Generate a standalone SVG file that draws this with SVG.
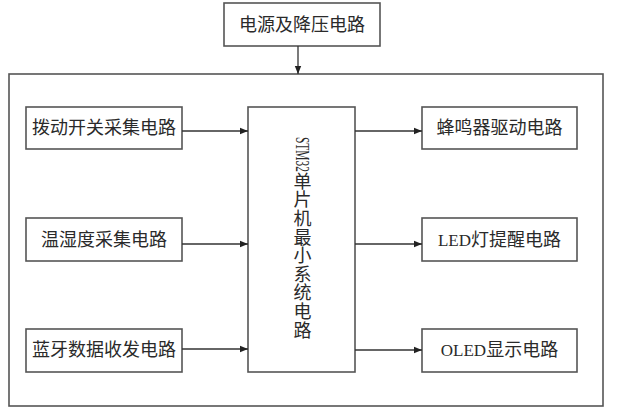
<svg xmlns="http://www.w3.org/2000/svg" width="629" height="420" viewBox="0 0 629 420">
<defs>
<style>
.box{fill:#fff;stroke:#555;stroke-width:1.6}
.t{font-family:"Liberation Serif","Noto Sans CJK SC",serif;font-size:18px;fill:#2a2a2a;text-anchor:middle;dominant-baseline:central}
.lat{font-size:17px}
.ln{stroke:#333;stroke-width:1.3;fill:none}
</style>
<marker id="ah" viewBox="0 0 10 10" refX="10" refY="5" markerWidth="10" markerHeight="8" markerUnits="userSpaceOnUse" orient="auto">
<path d="M0,1 L10,5 L0,9 Z" fill="#222"/>
</marker>
</defs>
<rect width="629" height="420" fill="#fff"/>
<g id="outer"><rect class="box" x="9" y="74" width="594" height="332"/></g>
<g id="power"><rect class="box" x="224" y="3" width="156" height="43"/><text class="t" x="302" y="25">电源及降压电路</text></g>
<g id="switch"><rect class="box" x="26" y="107" width="156" height="42"/><text class="t" x="104" y="128">拨动开关采集电路</text></g>
<g id="temp"><rect class="box" x="26" y="218" width="156" height="43"/><text class="t" x="104" y="239.5">温湿度采集电路</text></g>
<g id="bt"><rect class="box" x="26" y="329" width="156" height="43"/><text class="t" x="104" y="350">蓝牙数据收发电路</text></g>
<g id="mcu"><rect class="box" x="248" y="107" width="107" height="265"/>
<text x="302" y="137" style="font-family:'Liberation Serif',serif;font-size:18px;fill:#2a2a2a;writing-mode:vertical-rl" textLength="35" lengthAdjust="spacingAndGlyphs">STM32</text>
<text x="300.5" y="172" style="font-family:'Liberation Serif','Noto Sans CJK SC',serif;font-size:18px;fill:#2a2a2a;writing-mode:vertical-rl;letter-spacing:0.6px">单片机最小系统电路</text>
</g>
<g id="buzzer"><rect class="box" x="422" y="107" width="155" height="42"/><text class="t" x="499.5" y="128">蜂鸣器驱动电路</text></g>
<g id="led"><rect class="box" x="422" y="218" width="155" height="43"/><text class="t" x="499.5" y="239.5"><tspan class="lat">LED</tspan>灯提醒电路</text></g>
<g id="oled"><rect class="box" x="422" y="329" width="155" height="43"/><text class="t" x="499.5" y="350"><tspan class="lat">OLED</tspan>显示电路</text></g>
<g id="connectors">
<line class="ln" x1="298" y1="46" x2="298" y2="74" marker-end="url(#ah)"/>
<line class="ln" x1="182" y1="131" x2="248" y2="131" marker-end="url(#ah)"/>
<line class="ln" x1="182" y1="244" x2="248" y2="244" marker-end="url(#ah)"/>
<line class="ln" x1="182" y1="349" x2="248" y2="349" marker-end="url(#ah)"/>
<line class="ln" x1="355" y1="131" x2="422" y2="131" marker-end="url(#ah)"/>
<line class="ln" x1="355" y1="244" x2="422" y2="244" marker-end="url(#ah)"/>
<line class="ln" x1="355" y1="350" x2="422" y2="350" marker-end="url(#ah)"/>
</g>
</svg>
